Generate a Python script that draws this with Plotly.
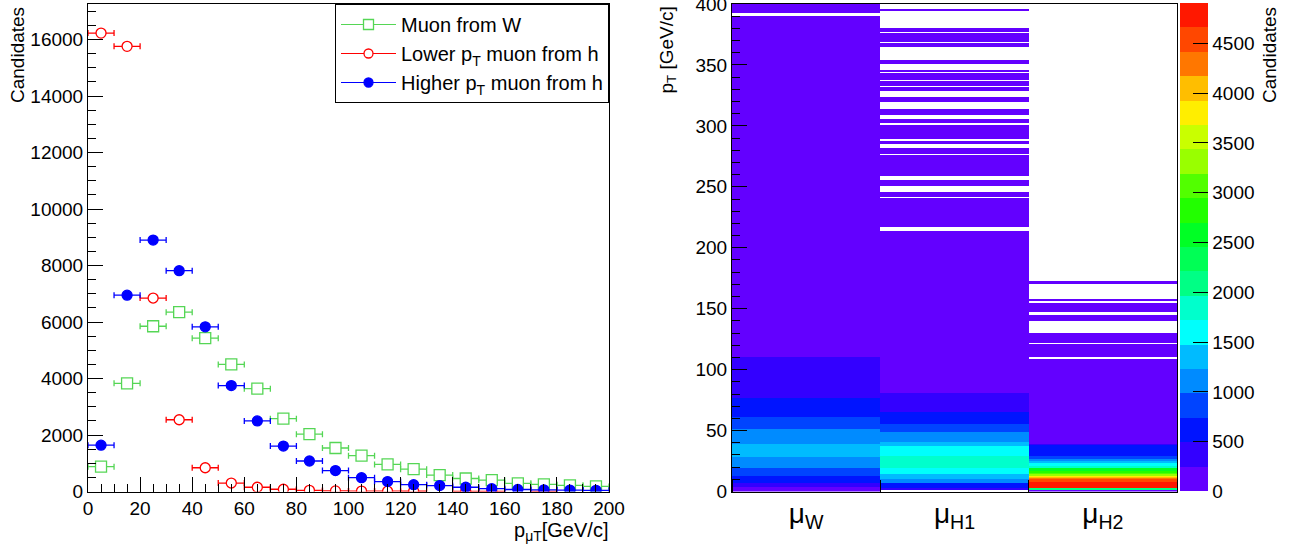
import plotly.graph_objects as go

# ---------------- left panel: muon pT spectra (10 GeV bins) ----------------
PT_CENTERS = [5, 15, 25, 35, 45, 55, 65, 75, 85, 95,
              105, 115, 125, 135, 145, 155, 165, 175, 185, 195]
BIN_WIDTH = 10

MUON_FROM_W = [880, 3830, 5850, 6350, 5430, 4500, 3640, 2580, 2030, 1540,
               1270, 960, 790, 580, 460, 400, 290, 250, 220, 180]
LOWER_PT_FROM_H = [16230, 15760, 6850, 2540, 840, 300, 150, 80, 40, 20,
                   15, 10, 8, None, 5, 3, None, 2, None, None]
HIGHER_PT_FROM_H = [1640, 6950, 8900, 7820, 5830, 3750, 2500, 1610, 1080, 740,
                    490, 350, 240, 210, 150, 100, 70, 60, 50, 40]

# ---------------- right panel: pT vs muon origin (lo, hi, candidates) ----------------
COLUMN_LABELS = ["μ<sub>W</sub>", "μ<sub>H1</sub>", "μ<sub>H2</sub>"]

MU_W_BANDS = [(0, 4, 150), (4, 7, 400), (7, 13, 650), (13, 19, 900), (19, 28, 1150),
              (28, 39, 1400), (39, 51, 1150), (51, 61, 900), (61, 77, 650),
              (77, 110, 380), (110, 150, 180), (150, 250, 50), (250, 390, 8),
              (393, 400, 2)]

MU_H1_BANDS = [(1, 3, 400), (3, 7, 650), (7, 10, 1100), (10, 14, 1350), (14, 19, 1600),
               (19, 29, 1830), (29, 37, 1600), (37, 41, 1350), (41, 49, 1100),
               (49, 55, 860), (55, 65, 620), (65, 81, 370), (81, 110, 200),
               (110, 150, 80), (150, 214, 15), (217, 241, 5), (242, 246, 4),
               (251, 256, 4), (259, 276, 3), (277, 282, 3), (285, 288, 2),
               (289, 301, 2), (302, 306, 2), (309, 314, 2), (320, 324, 1),
               (329, 332, 1), (333, 337, 1), (338, 343, 1), (344, 346, 1),
               (351, 354, 1), (365, 368, 1), (369, 376, 1), (377, 380, 1),
               (394, 396, 1)]

MU_H2_BANDS = [(0, 1, 120), (1, 3, 2000), (3, 5, 4900), (5, 8, 4800), (8, 10, 4550),
               (10, 11, 4250), (11, 12, 4000), (12, 13, 3750), (13, 14, 3400),
               (14, 15, 3000), (15, 17, 2750), (17, 19, 2500), (19, 21, 1900),
               (21, 23, 1600), (23, 25, 1350), (25, 27, 1100), (27, 29, 850),
               (29, 38, 600), (38, 39, 350), (39, 70, 150), (70, 109, 40),
               (110, 121, 12), (122, 130, 6), (140, 145, 3), (147, 155, 2),
               (156, 158, 1), (170, 173, 1)]

# 20-level rainbow palette (violet -> red)
PALETTE = ["#6300ff", "#3300ff", "#0014ff", "#0044ff", "#008bff", "#00bbff", "#00fffc",
           "#00ffcc", "#00ff85", "#00ff55", "#00ff25", "#22ff00", "#52ff00", "#99ff00",
           "#c9ff00", "#ffee00", "#ffbe00", "#ff7700", "#ff4700", "#ff1800"]

FONT = "Liberation Sans, Arial, sans-serif"
W, H = 1305, 545


def px_x(p):
    return p / W


def px_y(p):
    return 1 - p / H


def column_grid(columns):
    """Merge band lists of all columns into one set of row edges and a z matrix."""
    edges = sorted({e for bands in columns for lo, hi, _ in bands for e in (lo, hi)})
    z = []
    for lo, hi in zip(edges[:-1], edges[1:]):
        row = []
        for bands in columns:
            val = None
            for blo, bhi, n in bands:
                if blo <= lo and hi <= bhi:
                    val = n
                    break
            row.append(val)
        z.append(row)
    return edges, z


def stepped_scale(colors):
    n = len(colors)
    scale = []
    for k, c in enumerate(colors):
        scale.append([k / n, c])
        scale.append([(k + 1) / n, c])
    return scale


fig = go.Figure()

series = [
    ("Muon from W", MUON_FROM_W, "#55d655", "square", "white", 11),
    ("Lower p<sub>T</sub> muon from h", LOWER_PT_FROM_H, "#ff0000", "circle", "white", 10),
    ("Higher p<sub>T</sub> muon from h", HIGHER_PT_FROM_H, "#0000ff", "circle", "#0000ff", 10),
]

for i, (name, vals, col, sym, fill, size) in enumerate(series):
    fig.add_trace(go.Scatter(
        x=PT_CENTERS, y=vals, mode="markers", showlegend=False,
        marker=dict(symbol=sym, size=size, color=fill, line=dict(color=col, width=1.3)),
        error_x=dict(type="constant", value=BIN_WIDTH / 2, color=col, thickness=1.3, width=3),
        xaxis="x", yaxis="y", cliponaxis=True,
    ))
    # legend entry: line with marker
    fig.add_trace(go.Scatter(
        x=[None], y=[None], mode="lines+markers", name=name, legendgroup=f"g{i}",
        line=dict(color=col, width=1),
        marker=dict(symbol=sym, size=size - 1, color=fill, line=dict(color=col, width=1.3)),
        xaxis="x", yaxis="y",
    ))

edges, z = column_grid([MU_W_BANDS, MU_H1_BANDS, MU_H2_BANDS])
zmax = max(n for bands in (MU_W_BANDS, MU_H1_BANDS, MU_H2_BANDS) for _, _, n in bands)

fig.add_trace(go.Heatmap(
    x=[0, 1, 2, 3], y=edges, z=z, xaxis="x2", yaxis="y2",
    coloraxis="coloraxis", hoverinfo="skip", zsmooth=False,
))

axis_common = dict(showline=True, linecolor="black", linewidth=1, mirror=True,
                   showgrid=False, zeroline=False, ticks="inside", tickcolor="black",
                   tickformat="d", automargin=False, ticklabeloverflow="allow",
                   tickfont=dict(family=FONT, size=19, color="black"))

left_dom_x = [px_x(88), px_x(609)]
right_dom_x = [px_x(732), px_x(1177)]
dom_y = [px_y(491.5), px_y(4)]

fig.update_layout(
    width=W, height=H, margin=dict(l=0, r=0, t=0, b=0, autoexpand=False),
    paper_bgcolor="white", plot_bgcolor="white",
    font=dict(family=FONT, color="black"),
    xaxis=dict(domain=left_dom_x, range=[0, 200], dtick=20, ticklen=15,
               minor=dict(ticks="inside", dtick=5, ticklen=8, tickcolor="black"),
               anchor="y", **axis_common),
    yaxis=dict(domain=dom_y, range=[0, 17260], dtick=2000, ticklen=15,
               minor=dict(ticks="inside", dtick=500, ticklen=8, tickcolor="black"),
               anchor="x", **axis_common),
    xaxis2=dict(domain=right_dom_x, range=[0, 3], anchor="y2", automargin=False,
                showline=True, linecolor="black", linewidth=1, mirror=True,
                showgrid=False, zeroline=False, ticks="", ticklabelstandoff=-3,
                tickvals=[0.5, 1.5, 2.5], ticktext=COLUMN_LABELS,
                tickfont=dict(family=FONT, size=28, color="black"),
                minor=dict(ticks="inside", tick0=0, dtick=1, ticklen=12, tickcolor="black")),
    yaxis2=dict(domain=dom_y, range=[0, 400], dtick=50, ticklen=15, anchor="x2",
                minor=dict(ticks="inside", dtick=10, ticklen=8, tickcolor="black"),
                **axis_common),
    coloraxis=dict(
        cmin=0, cmax=zmax, colorscale=stepped_scale(PALETTE),
        colorbar=dict(
            x=px_x(1180), xanchor="left", y=px_y(491.5), yanchor="bottom",
            len=(491.5 - 4) / H, lenmode="fraction", thickness=28, thicknessmode="pixels",
            xpad=0, ypad=0, outlinewidth=0, dtick=500, tick0=0,
            ticks="inside", ticklen=15, tickcolor="black",
            tickfont=dict(family=FONT, size=19, color="black"),
        ),
    ),
    legend=dict(
        x=px_x(609), xanchor="right", y=px_y(4), yanchor="top",
        bgcolor="white", bordercolor="black", borderwidth=1,
        font=dict(family=FONT, size=20, color="black"),
        itemwidth=55, traceorder="grouped", tracegroupgap=0,
    ),
    annotations=[
        dict(text="Candidates", textangle=-90, x=px_x(18), y=px_y(5),
             xref="paper", yref="paper", xanchor="center", yanchor="top",
             showarrow=False, font=dict(family=FONT, size=19)),
        dict(text="p<sub>μT</sub>[GeV/c]", x=px_x(610), y=px_y(517),
             xref="paper", yref="paper", xanchor="right", yanchor="top",
             showarrow=False, font=dict(family=FONT, size=20)),
        dict(text="p<sub>T</sub> [GeV/c]", textangle=-90, x=px_x(668), y=px_y(5),
             xref="paper", yref="paper", xanchor="center", yanchor="top",
             showarrow=False, font=dict(family=FONT, size=19)),
        dict(text="Candidates", textangle=-90, x=px_x(1270), y=px_y(5),
             xref="paper", yref="paper", xanchor="center", yanchor="top",
             showarrow=False, font=dict(family=FONT, size=19)),
    ],
)

fig.write_html("out.html", config={"displayModeBar": False})
